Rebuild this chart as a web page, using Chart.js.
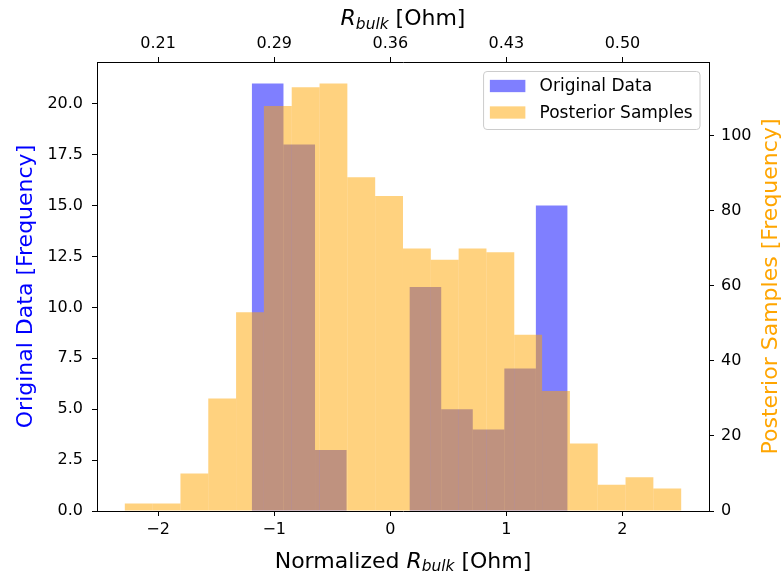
<!DOCTYPE html>
<html>
<head>
<meta charset="utf-8">
<script src="https://cdn.jsdelivr.net/npm/chart.js@4.4.1/dist/chart.umd.min.js"></script>
<style>
  html, body { margin: 0; padding: 0; background: #ffffff; }
  canvas { display: block; }
</style>
</head>
<body>
<canvas id="chart" width="783" height="575"></canvas>
<script>
// ---- Data ----
// Original data histogram: 10 bins (edges in normalized units) and counts
const originalBinEdges = [-1.1920, -0.9202, -0.6484, -0.3766, -0.1048, 0.1670, 0.4388, 0.7106, 0.9824, 1.2542, 1.5260];
const originalCounts = [21, 18, 3, 0, 0, 11, 5, 4, 7, 15];

// Posterior samples histogram: 20 bins (edges in normalized units) and counts
const posteriorBinEdges = [-2.2870, -2.0474, -1.8077, -1.5681, -1.3284, -1.0888, -0.8491, -0.6095, -0.3698, -0.1302,
                           0.1095, 0.3492, 0.5888, 0.8285, 1.0681, 1.3078, 1.5474, 1.7871, 2.0267, 2.2664, 2.5060];
const posteriorCounts = [2, 2, 10, 30, 53, 108, 113, 114, 89, 84, 70, 67, 70, 69, 47, 32, 18, 7, 9, 6];

const seriesLabels = ['Original Data', 'Posterior Samples'];

// Ticks
const bottomTickValues = [-2, -1, 0, 1, 2];
const bottomTickLabels = ['\u22122', '\u22121', '0', '1', '2'];
const topTickLabels = ['0.21', '0.29', '0.36', '0.43', '0.50'];
const leftTickValues = [0, 2.5, 5, 7.5, 10, 12.5, 15, 17.5, 20];
const rightTickValues = [0, 20, 40, 60, 80, 100];

// Titles
const leftTitle = 'Original Data [Frequency]';
const rightTitle = 'Posterior Samples [Frequency]';
const bottomTitleParts = [
  { text: 'Normalized ' },
  { text: 'R', italic: true },
  { text: 'bulk', italic: true, sub: true },
  { text: ' [Ohm]' }
];
const topTitleParts = [
  { text: 'R', italic: true },
  { text: 'bulk', italic: true, sub: true },
  { text: ' [Ohm]' }
];

// ---- Styling ----
const FONT = "'DejaVu Sans', sans-serif";
const BLUE = 'rgba(0, 0, 255, 0.5)';
const ORANGE = 'rgba(255, 165, 0, 0.5)';
const BLUE_TEXT = '#0000ff';
const ORANGE_TEXT = '#ffa500';

// ---- Derived values (bin centres, axis limits with matplotlib-style 5% margins) ----
function centres(edges) { return edges.slice(0, -1).map((e, i) => (e + edges[i + 1]) / 2); }
const originalData = centres(originalBinEdges).map((c, i) => ({ x: c, y: originalCounts[i] }));
const posteriorData = centres(posteriorBinEdges).map((c, i) => ({ x: c, y: posteriorCounts[i] }));

const allEdges = originalBinEdges.concat(posteriorBinEdges);
const dataMin = Math.min(...allEdges), dataMax = Math.max(...allEdges);
const xMin = dataMin - 0.05 * (dataMax - dataMin);
const xMax = dataMax + 0.05 * (dataMax - dataMin);
const yLeftMax = Math.max(...originalCounts) * 1.05;
const yRightMax = Math.max(...posteriorCounts) * 1.05;

// ---- helpers ----
function drawRich(ctx, parts, cx, baseline, size) {
  const items = parts.map(p => {
    const s = p.sub ? size * 0.7 : size;
    const font = (p.italic ? 'italic ' : '') + s + 'px ' + FONT;
    ctx.font = font;
    return { p, font, w: ctx.measureText(p.text).width };
  });
  const total = items.reduce((a, m) => a + m.w, 0);
  let x = cx - total / 2;
  ctx.textAlign = 'left';
  ctx.textBaseline = 'alphabetic';
  items.forEach(m => {
    ctx.font = m.font;
    ctx.fillText(m.p.text, x, baseline + (m.p.sub ? size * 0.16 : 0));
    x += m.w;
  });
}

const decorPlugin = {
  id: 'decor',
  afterDraw(chart) {
    const ctx = chart.ctx;
    const a = chart.chartArea;
    const cy = (a.top + a.bottom) / 2;
    const cx = (a.left + a.right) / 2;
    ctx.save();
    // axis titles
    ctx.fillStyle = '#000';
    drawRich(ctx, bottomTitleParts, cx, a.bottom + 56.5, 22);
    drawRich(ctx, topTitleParts, cx, a.top - 37, 22);

    ctx.font = '22px ' + FONT;
    ctx.textAlign = 'center';
    ctx.textBaseline = 'alphabetic';
    ctx.save();
    ctx.translate(a.left - 65.5, cy);
    ctx.rotate(-Math.PI / 2);
    ctx.fillStyle = BLUE_TEXT;
    ctx.fillText(leftTitle, 0, 0);
    ctx.restore();
    ctx.save();
    ctx.translate(a.right + 68, cy);
    ctx.rotate(-Math.PI / 2);
    ctx.fillStyle = ORANGE_TEXT;
    ctx.fillText(rightTitle, 0, 0);
    ctx.restore();

    // legend (upper right, inside axes)
    const fs = 17;
    ctx.font = fs + 'px ' + FONT;
    const ds = chart.data.datasets;
    const textW = Math.max(...ds.map(d => ctx.measureText(d.label).width));
    const pad = 6.8, handleW = 35.5, handleH = 12.3, gap = 14.2, rowGap = 26.5;
    const boxW = pad + handleW + gap + textW + pad;
    const boxH = 58;
    const bx = a.right - 9.5 - boxW;
    const by = a.top + 9;
    ctx.beginPath();
    ctx.roundRect(bx + 0.5, by + 0.5, boxW, boxH, 3.5);
    ctx.fillStyle = 'rgba(255,255,255,0.8)';
    ctx.fill();
    ctx.strokeStyle = '#cccccc';
    ctx.lineWidth = 1;
    ctx.stroke();
    ds.forEach((d, i) => {
      const rowY = by + 15 + i * rowGap;
      ctx.fillStyle = d.backgroundColor;
      ctx.fillRect(bx + pad, rowY - handleH / 2, handleW, handleH);
      ctx.fillStyle = '#000';
      ctx.textAlign = 'left';
      ctx.textBaseline = 'middle';
      ctx.fillText(d.label, bx + pad + handleW + gap, rowY + 1);
    });
    ctx.restore();
  }
};

const axisBorder = { display: true, color: '#000000', width: 1 };
function tickGrid() {
  return { display: true, drawOnChartArea: false, drawTicks: true, tickLength: 5,
           tickWidth: 1, tickColor: '#000000', offset: false };
}
const tickFont = { family: FONT, size: 16 };

new Chart(document.getElementById('chart'), {
  type: 'bar',
  data: {
    datasets: [
      { label: seriesLabels[0], data: originalData, xAxisID: 'xTop', yAxisID: 'y',
        backgroundColor: BLUE, order: 1 },
      { label: seriesLabels[1], data: posteriorData, xAxisID: 'x', yAxisID: 'y2',
        backgroundColor: ORANGE, order: 0 }
    ]
  },
  options: {
    responsive: false,
    animation: false,
    devicePixelRatio: 1,
    events: [],
    layout: { padding: 0 },
    datasets: {
      bar: { barPercentage: 1, categoryPercentage: 1, grouped: false, borderWidth: 0, inflateAmount: 0 }
    },
    plugins: {
      legend: { display: false },
      tooltip: { enabled: false },
      title: { display: false }
    },
    scales: {
      x: {
        type: 'linear', position: 'bottom', min: xMin, max: xMax, bounds: 'data', offset: false,
        grid: tickGrid(), border: axisBorder,
        afterBuildTicks: s => { s.ticks = bottomTickValues.map(v => ({ value: v })); },
        ticks: { font: tickFont, color: '#000', padding: 4, maxRotation: 0, autoSkip: false,
                 callback: (v, i) => bottomTickLabels[i] },
        afterFit: s => { s.height = 64; }
      },
      xTop: {
        type: 'linear', position: 'top', min: xMin, max: xMax, bounds: 'data', offset: false,
        grid: tickGrid(), border: axisBorder,
        afterBuildTicks: s => { s.ticks = bottomTickValues.map(v => ({ value: v })); },
        ticks: { font: tickFont, color: '#000', padding: 3.5, maxRotation: 0, autoSkip: false,
                 callback: (v, i) => topTickLabels[i] },
        afterFit: s => { s.height = 62; }
      },
      y: {
        type: 'linear', position: 'left', min: 0, max: yLeftMax, bounds: 'data',
        grid: tickGrid(), border: axisBorder,
        afterBuildTicks: s => { s.ticks = leftTickValues.map(v => ({ value: v })); },
        ticks: { font: tickFont, color: '#000', padding: 9, autoSkip: false,
                 callback: v => Number(v).toFixed(1) },
        afterFit: s => { s.width = 97; }
      },
      y2: {
        type: 'linear', position: 'right', min: 0, max: yRightMax, bounds: 'data',
        grid: tickGrid(), border: axisBorder,
        afterBuildTicks: s => { s.ticks = rightTickValues.map(v => ({ value: v })); },
        ticks: { font: tickFont, color: '#000', padding: 7, autoSkip: false,
                 callback: v => String(v) },
        afterFit: s => { s.width = 74; }
      }
    }
  },
  plugins: [decorPlugin]
});
</script>
</body>
</html>
